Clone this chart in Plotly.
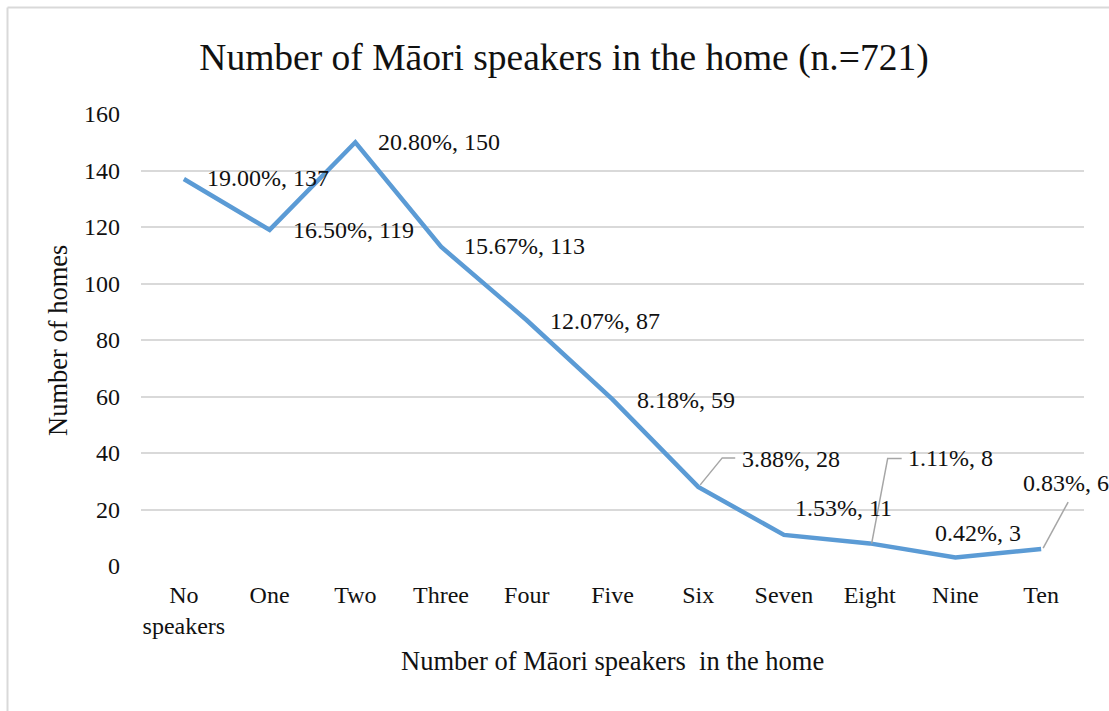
import plotly.graph_objects as go

# ---- data ----
categories = ["No<br>speakers", "One", "Two", "Three", "Four", "Five",
              "Six", "Seven", "Eight", "Nine", "Ten"]
homes = [137, 119, 150, 113, 87, 59, 28, 11, 8, 3, 6]
percent = ["19.00%", "16.50%", "20.80%", "15.67%", "12.07%", "8.18%",
           "3.88%", "1.53%", "1.11%", "0.42%", "0.83%"]
y_ticks = [0, 20, 40, 60, 80, 100, 120, 140, 160]

title_text = "Number of Māori speakers in the home (n.=721)"
x_title = "Number of Māori speakers  in the home"
y_title = "Number of homes"

# ---- label placement (style only) ----
# (dx, dy, xanchor, leader path in pixels relative to the point, +y up or None)
label_style = [
    (21, 1, "left", None),
    (21, 0, "left", None),
    (21, 0, "left", None),
    (21, 1, "left", None),
    (21, -1, "left", None),
    (22, -1, "left", None),
    (42, 28, "left", "M 2 2 L 24 29 L 37 29"),
    (9, 27, "left", None),
    (36, 85, "left", "M 2 0 L 18 85 L 32 85"),
    (-22, 25, "left", None),
    (-20, 66, "left", "M 2 1 L 27 47"),
]

FONT = "Liberation Serif, Times New Roman, serif"
W, H = 1109, 711
L, R, T, B = 141, 25, 114, 145
LABEL_SIZE = 24

fig = go.Figure()
fig.add_trace(go.Scatter(
    x=categories, y=homes, mode="lines",
    line=dict(color="#5B9BD5", width=4.5),
    hoverinfo="skip", showlegend=False,
))

annotations = []
shapes = []
for i, (dx, dy, xa, path) in enumerate(label_style):
    txt = f"{percent[i]}, {homes[i]}"
    annotations.append(dict(
        x=categories[i], y=homes[i], xref="x", yref="y",
        text=txt, showarrow=False, xanchor=xa, yanchor="middle",
        xshift=dx, yshift=dy,
        font=dict(family=FONT, size=LABEL_SIZE, color="#111111"),
    ))
    if path:
        shapes.append(dict(
            type="path", xref="x", yref="y",
            xsizemode="pixel", ysizemode="pixel",
            xanchor=categories[i], yanchor=homes[i],
            path=path, line=dict(color="#A6A6A6", width=1.5),
        ))

pw, ph = W - L - R, H - T - B
annotations.append(dict(
    x=(612 - L) / pw, y=(H - B - 661) / ph, xref="paper", yref="paper",
    text=x_title, showarrow=False, xanchor="center", yanchor="middle",
    font=dict(family=FONT, size=26.5, color="#111111"),
))
annotations.append(dict(
    x=(58 - L) / pw, y=(H - B - 341) / ph, xref="paper", yref="paper",
    text=y_title, showarrow=False, xanchor="center", yanchor="middle",
    textangle=-90,
    font=dict(family=FONT, size=26.5, color="#111111"),
))

# outer chart frame (left and top edges visible)
shapes += [
    dict(type="line", xref="paper", yref="paper",
         x0=(7.5 - L) / pw, x1=(7.5 - L) / pw, y0=(H - B - 720) / ph, y1=(H - B - 7.5) / ph,
         line=dict(color="#D9D9D9", width=2)),
    dict(type="line", xref="paper", yref="paper",
         x0=(7.5 - L) / pw, x1=(1120 - L) / pw, y0=(H - B - 7.5) / ph, y1=(H - B - 7.5) / ph,
         line=dict(color="#D9D9D9", width=2)),
]

fig.update_layout(
    width=W, height=H,
    margin=dict(l=L, r=R, t=T, b=B),
    paper_bgcolor="white", plot_bgcolor="white",
    title=dict(text=title_text, x=(564 - L) / pw, xref="paper", xanchor="center",
               y=1 - 57 / H, yref="container", yanchor="middle",
               font=dict(family=FONT, size=37.5, color="#111111")),
    xaxis=dict(type="category", range=[-0.5, 10.5], showgrid=False,
               showline=False, ticks="", zeroline=False, ticklabelstandoff=12,
               tickfont=dict(family=FONT, size=24, color="#111111")),
    yaxis=dict(range=[0, 160], tickvals=y_ticks, showgrid=True,
               gridcolor="#D9D9D9", gridwidth=2, zeroline=False,
               showline=False, ticks="", ticklabelstandoff=20,
               tickfont=dict(family=FONT, size=24, color="#111111")),
    annotations=annotations,
    shapes=shapes,
    showlegend=False,
)

fig.write_html("out.html", config={"displayModeBar": False},
               post_script="document.body.style.margin='0';document.body.style.overflow='hidden';")
